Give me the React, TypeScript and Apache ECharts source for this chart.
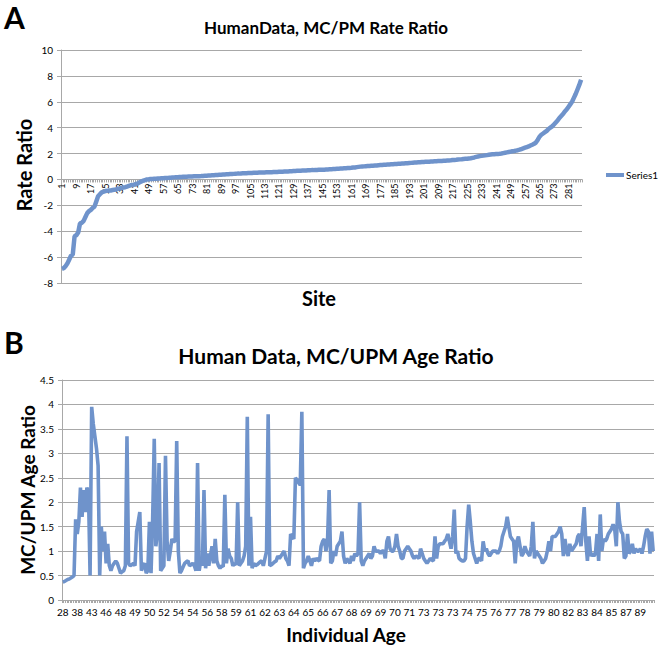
import React, { useEffect, useRef } from "react";
import * as echarts from "echarts";

// Panel A: sorted rate ratio per site (288 sites)
const rateRatio: number[] = [
  -6.9, -6.85, -6.7, -6.5, -6.2, -5.9, -5.8, -4.4, -4.3, -4.1,
  -3.4, -3.35, -3.2, -2.9, -2.6, -2.45, -2.35, -2.2, -2.1, -1.7,
  -1.3, -1.15, -1.0, -0.95, -0.9, -0.88, -0.85, -0.85, -0.82, -0.8,
  -0.78, -0.72, -0.7, -0.65, -0.62, -0.6, -0.55, -0.5, -0.45, -0.42,
  -0.4, -0.35, -0.3, -0.22, -0.15, -0.1, -0.05, 0.0, 0.01, 0.03,
  0.04, 0.05, 0.06, 0.07, 0.08, 0.09, 0.1, 0.11, 0.12, 0.13,
  0.14, 0.15, 0.16, 0.17, 0.17, 0.18, 0.19, 0.2, 0.2, 0.21,
  0.22, 0.22, 0.23, 0.24, 0.24, 0.25, 0.25, 0.26, 0.27, 0.28,
  0.29, 0.3, 0.31, 0.32, 0.33, 0.34, 0.35, 0.36, 0.37, 0.38,
  0.39, 0.4, 0.41, 0.42, 0.42, 0.43, 0.44, 0.45, 0.45, 0.46,
  0.47, 0.47, 0.48, 0.49, 0.5, 0.5, 0.51, 0.52, 0.52, 0.53,
  0.53, 0.54, 0.54, 0.55, 0.55, 0.56, 0.56, 0.57, 0.58, 0.58,
  0.59, 0.6, 0.6, 0.61, 0.62, 0.62, 0.63, 0.64, 0.65, 0.66,
  0.67, 0.68, 0.68, 0.69, 0.7, 0.7, 0.71, 0.71, 0.72, 0.72,
  0.73, 0.73, 0.74, 0.74, 0.75, 0.75, 0.76, 0.77, 0.78, 0.79,
  0.8, 0.81, 0.82, 0.83, 0.84, 0.85, 0.86, 0.87, 0.88, 0.89,
  0.9, 0.92, 0.93, 0.95, 0.97, 0.99, 1.0, 1.01, 1.02, 1.03,
  1.04, 1.05, 1.06, 1.07, 1.08, 1.1, 1.11, 1.12, 1.13, 1.14,
  1.15, 1.16, 1.17, 1.18, 1.19, 1.2, 1.21, 1.22, 1.23, 1.24,
  1.25, 1.26, 1.27, 1.28, 1.29, 1.3, 1.31, 1.32, 1.33, 1.34,
  1.35, 1.36, 1.37, 1.37, 1.38, 1.39, 1.4, 1.41, 1.42, 1.42,
  1.43, 1.44, 1.45, 1.46, 1.47, 1.48, 1.5, 1.51, 1.52, 1.54,
  1.55, 1.56, 1.58, 1.59, 1.6, 1.62, 1.64, 1.67, 1.7, 1.74,
  1.77, 1.8, 1.82, 1.84, 1.86, 1.88, 1.9, 1.92, 1.94, 1.95,
  1.96, 1.97, 1.98, 2.0, 2.03, 2.06, 2.09, 2.12, 2.15, 2.18,
  2.2, 2.23, 2.26, 2.3, 2.35, 2.4, 2.45, 2.5, 2.55, 2.62,
  2.68, 2.75, 2.85, 3.05, 3.3, 3.45, 3.55, 3.65, 3.75, 3.9,
  4.0, 4.1, 4.25, 4.4, 4.55, 4.75, 4.9, 5.05, 5.25, 5.4,
  5.6, 5.8, 6.0, 6.3, 6.6, 6.95, 7.3, 7.7,
];
const siteCategories: string[] = rateRatio.map((_, i) => String(i + 1));
const RATE_MIN = -8;
const RATE_MAX = 10;

// Panel B: MC/UPM age ratio per individual (369 individuals, sorted by age)
const ageRatio: number[] = [
  0.37, 0.38, 0.4, 0.42, 0.43, 0.45, 0.47, 0.5, 1.65, 1.35,
  1.6, 2.3, 1.7, 2.25, 1.8, 2.3, 2.2, 0.5, 3.95, 3.6,
  3.35, 3.1, 2.75, 0.5, 1.5, 1.0, 1.4, 0.75, 1.15, 0.7,
  0.6, 0.7, 0.75, 0.8, 0.75, 0.65, 0.55, 0.58, 0.6, 0.7,
  3.35, 0.75, 0.7, 0.72, 0.75, 0.7, 1.4, 1.6, 1.8, 0.6,
  0.7, 0.75, 0.55, 0.6, 1.6, 0.55, 1.65, 3.3, 1.1, 1.4,
  2.8, 0.6, 0.65, 0.7, 2.95, 1.2, 0.8, 1.0, 1.25, 1.2,
  1.2, 3.25, 1.0, 0.55, 0.6, 0.68, 0.75, 0.78, 0.8, 0.7,
  0.72, 0.75, 0.7, 0.6, 2.8, 0.6, 0.8, 0.7, 2.25, 0.65,
  0.95, 0.7, 0.9, 1.1, 0.75, 1.25, 0.8, 0.7, 0.65, 0.7,
  0.68, 2.15, 0.75, 1.05, 0.9, 0.85, 0.7, 0.75, 0.72, 2.0,
  0.7, 0.75, 0.8, 0.9, 1.1, 3.75, 0.7, 1.7, 0.65, 0.75,
  0.7, 0.72, 0.75, 0.78, 0.8, 0.7, 0.85, 1.0, 3.8, 0.7,
  0.72, 0.75, 0.78, 0.8, 0.9, 0.85, 0.9, 0.95, 1.0, 0.85,
  0.8, 0.7, 1.35, 1.3, 1.25, 2.5, 2.45, 2.4, 2.35, 3.85,
  0.65, 0.75, 0.8, 0.9, 0.8, 0.7, 0.85, 0.8, 0.85, 0.82,
  0.8, 1.1, 1.2, 1.25, 1.0, 1.2, 2.25, 0.75, 0.8, 1.0,
  0.9, 1.1, 1.15, 1.2, 1.4, 0.9, 0.75, 0.85, 0.8, 0.75,
  0.9, 0.8, 0.95, 0.9, 0.95, 2.0, 0.8, 0.7, 0.8, 0.85,
  0.9, 0.95, 0.85, 0.9, 1.1, 1.0, 1.0, 1.0, 0.95, 1.0,
  1.0, 0.85, 1.2, 1.3, 1.05, 1.0, 1.0, 1.1, 1.35, 1.1,
  1.0, 0.85, 0.85, 1.0, 1.05, 1.1, 1.05, 1.0, 0.9, 0.85,
  0.9, 0.88, 0.85, 1.05, 0.95, 0.85, 0.8, 0.75, 0.8, 0.85,
  0.82, 0.8, 1.3, 0.85, 1.1, 1.15, 1.15, 1.15, 1.2, 1.25,
  1.35, 1.2, 1.05, 1.3, 1.85, 0.95, 1.0, 0.85, 0.82, 0.8,
  0.8, 0.85, 1.5, 1.95, 1.6, 1.2, 0.95, 0.85, 0.75, 0.85,
  0.85, 0.8, 1.2, 1.0, 1.05, 0.95, 0.9, 0.95, 1.0, 1.0,
  1.0, 0.95, 1.0, 1.1, 1.3, 1.4, 1.5, 1.7, 1.5, 1.3,
  1.25, 1.2, 0.75, 1.2, 1.3, 1.1, 0.9, 0.95, 1.1, 1.0,
  0.95, 0.9, 1.1, 1.6, 0.85, 1.0, 0.95, 0.9, 0.85, 0.75,
  0.8, 0.85, 1.0, 1.2, 1.0, 1.3, 1.3, 1.3, 1.35, 1.4,
  1.5, 1.35, 0.9, 1.25, 1.0, 0.9, 1.15, 1.0, 1.05, 1.1,
  1.15, 1.3, 1.35, 1.1, 1.5, 1.9, 1.2, 0.8, 1.3, 0.9,
  0.95, 0.9, 0.95, 1.35, 0.8, 1.75, 1.0, 1.25, 1.2, 1.25,
  1.35, 1.4, 1.45, 1.55, 1.45, 1.1, 2.0, 1.6, 1.4, 1.35,
  0.85, 0.9, 1.35, 0.95, 1.0, 1.15, 0.95, 1.05, 1.0, 1.0,
  1.05, 0.95, 1.1, 1.3, 1.45, 1.4, 0.95, 1.4, 1.0,
];
// Visible age tick labels (one every 9 individuals)
const ageTickLabels: string[] = [
  "28", "38", "43", "46", "48", "49", "50", "52", "54", "54",
  "56", "58", "59", "61", "62", "63", "64", "65", "66", "67",
  "68", "69", "69", "70", "71", "73", "73", "73", "74", "75",
  "76", "77", "78", "79", "80", "82", "83", "84", "85", "87", "89",
];
const ageCategories: string[] = ageRatio.map((_, i) => String(i));
const LABEL_STEP = 9;

const LINE_COLOR = "#6f93cb";
const GRID_COLOR = "#a8a8a8";
const FONT = "Lato, 'Open Sans', sans-serif";

const GRID_A = { left: 61, top: 50, width: 521, height: 233 };
// Shift the category axis of panel A up to the zero line (labels move with it)
const ZERO_OFFSET_A = -(GRID_A.height * (0 - RATE_MIN)) / (RATE_MAX - RATE_MIN);

export default function App() {
  const ref = useRef<HTMLDivElement>(null);
  useEffect(() => {
    if (!ref.current) return;
    const chart = echarts.init(ref.current, undefined, { renderer: "svg" });
    chart.setOption({
      animation: false,
      backgroundColor: "#ffffff",
      textStyle: { fontFamily: FONT, color: "#000" },
      title: [
        {
          text: "HumanData, MC/PM Rate Ratio",
          left: 321,
          top: 14,
          textAlign: "center",
          textStyle: { fontSize: 17, fontWeight: "bold", fontFamily: FONT, color: "#000" },
        },
        {
          text: "Human Data, MC/UPM Age Ratio",
          left: 331,
          top: 340,
          textAlign: "center",
          textStyle: { fontSize: 21, fontWeight: "bold", fontFamily: FONT, color: "#000" },
        },
      ],
      graphic: [
        { type: "text", x: 4, y: 2, style: { text: "A", font: `bold 30px ${FONT}`, fill: "#000" } },
        { type: "text", x: 4, y: 327, style: { text: "B", font: `bold 30px ${FONT}`, fill: "#000" } },
        {
          type: "text", x: 24, y: 165, rotation: Math.PI / 2,
          style: { text: "Rate Ratio", font: `bold 20px ${FONT}`, fill: "#000", align: "center", verticalAlign: "middle" },
        },
        {
          type: "text", x: 319, y: 298,
          style: { text: "Site", font: `bold 20px ${FONT}`, fill: "#000", align: "center", verticalAlign: "middle" },
        },
        {
          type: "text", x: 27, y: 490, rotation: Math.PI / 2,
          style: { text: "MC/UPM Age Ratio", font: `bold 19px ${FONT}`, fill: "#000", align: "center", verticalAlign: "middle" },
        },
        {
          type: "text", x: 346, y: 634,
          style: { text: "Individual Age", font: `bold 19px ${FONT}`, fill: "#000", align: "center", verticalAlign: "middle" },
        },
      ],
      legend: {
        data: [{ name: "Series1", icon: "rect" }],
        left: 601,
        top: 165,
        itemWidth: 18,
        itemHeight: 4,
        textStyle: { fontSize: 10, fontFamily: FONT, color: "#000", padding: [0, 0, 0, -3] },
      },
      grid: [
        GRID_A,
        { left: 62, top: 380, width: 592, height: 220 },
      ],
      xAxis: [
        {
          type: "category",
          gridIndex: 0,
          data: siteCategories,
          boundaryGap: true,
          offset: ZERO_OFFSET_A,
          axisLine: { onZero: false, lineStyle: { color: GRID_COLOR } },
          axisTick: { show: true, interval: 0, length: 3, lineStyle: { color: GRID_COLOR } },
          axisLabel: { interval: 7, rotate: 90, fontSize: 9, margin: 4, color: "#000", fontFamily: FONT },
          splitLine: { show: false },
        },
        {
          type: "category",
          gridIndex: 1,
          data: ageCategories,
          boundaryGap: true,
          axisLine: { lineStyle: { color: GRID_COLOR } },
          axisTick: { show: true, interval: 0, length: 3, lineStyle: { color: GRID_COLOR } },
          axisLabel: {
            interval: LABEL_STEP - 1,
            fontSize: 10,
            margin: 7,
            color: "#000",
            fontFamily: FONT,
            formatter: (_v: string, idx: number) =>
              idx % LABEL_STEP === 0 ? ageTickLabels[idx / LABEL_STEP] ?? "" : "",
          },
          splitLine: { show: false },
        },
      ],
      yAxis: [
        {
          type: "value",
          gridIndex: 0,
          min: RATE_MIN,
          max: RATE_MAX,
          interval: 2,
          axisLine: { show: true, lineStyle: { color: GRID_COLOR } },
          axisTick: { show: true, length: 4, lineStyle: { color: GRID_COLOR } },
          axisLabel: { fontSize: 10, margin: 8, color: "#000", fontFamily: FONT },
          splitLine: { show: true, lineStyle: { color: GRID_COLOR, width: 1 } },
        },
        {
          type: "value",
          gridIndex: 1,
          min: 0,
          max: 4.5,
          interval: 0.5,
          axisLine: { show: true, lineStyle: { color: GRID_COLOR } },
          axisTick: { show: true, length: 4, lineStyle: { color: GRID_COLOR } },
          axisLabel: { fontSize: 10, margin: 8, color: "#000", fontFamily: FONT },
          splitLine: { show: true, lineStyle: { color: GRID_COLOR, width: 1 } },
        },
      ],
      series: [
        {
          name: "Series1",
          type: "line",
          xAxisIndex: 0,
          yAxisIndex: 0,
          data: rateRatio,
          symbol: "none",
          lineStyle: { color: LINE_COLOR, width: 4.5 },
          itemStyle: { color: LINE_COLOR },
        },
        {
          name: "Age Ratio",
          type: "line",
          xAxisIndex: 1,
          yAxisIndex: 1,
          data: ageRatio,
          symbol: "none",
          lineStyle: { color: LINE_COLOR, width: 3.6 },
          itemStyle: { color: LINE_COLOR },
        },
      ],
    });
    return () => chart.dispose();
  }, []);
  return (
    <div
      ref={ref}
      style={{ position: "fixed", left: 0, top: 0, width: 660, height: 648, background: "#fff" }}
    />
  );
}
